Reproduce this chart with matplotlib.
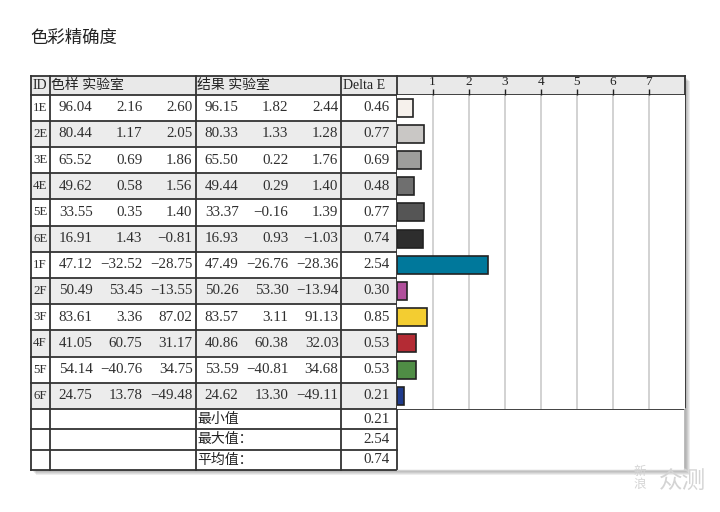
import numpy as np
import matplotlib.pyplot as plt
from matplotlib.patches import Rectangle

plt.rcParams['font.family'] = ['Liberation Serif', 'Noto Sans CJK SC']

ids = ['1E', '2E', '3E', '4E', '5E', '6E', '1F', '2F', '3F', '4F', '5F', '6F']
sample_L = [96.04, 80.44, 65.52, 49.62, 33.55, 16.91, 47.12, 50.49, 83.61, 41.05, 54.14, 24.75]
sample_a = [2.16, 1.17, 0.69, 0.58, 0.35, 1.43, -32.52, 53.45, 3.36, 60.75, -40.76, 13.78]
sample_b = [2.60, 2.05, 1.86, 1.56, 1.40, -0.81, -28.75, -13.55, 87.02, 31.17, 34.75, -49.48]
result_L = [96.15, 80.33, 65.50, 49.44, 33.37, 16.93, 47.49, 50.26, 83.57, 40.86, 53.59, 24.62]
result_a = [1.82, 1.33, 0.22, 0.29, -0.16, 0.93, -26.76, 53.30, 3.11, 60.38, -40.81, 13.30]
result_b = [2.44, 1.28, 1.76, 1.40, 1.39, -1.03, -28.36, -13.94, 91.13, 32.03, 34.68, -49.11]
delta_e = [0.46, 0.77, 0.69, 0.48, 0.77, 0.74, 2.54, 0.30, 0.85, 0.53, 0.53, 0.21]
bar_colors = ['#f6f1ec', '#c9c7c5', '#9d9d9b', '#6f6f6f', '#555555', '#2d2d2d',
              '#00789b', '#b04f9b', '#f3cd31', '#b42b34', '#4f8d45', '#1f3b8c']
summary_labels = ['最小值', '最大值：', '平均值：']
summary_values = [min(delta_e), max(delta_e), np.mean(delta_e)]
headers = ['ID', '色样 实验室', '结果 实验室', 'Delta E']
bar_ticks = [1, 2, 3, 4, 5, 6, 7]

# layout in pixels
L, R = 31, 685
top, head_bot = 76, 94.5
row_h = 26.2
rows_bot = head_bot + row_h * len(ids)
sum_h = 20.3
bot = rows_bot + sum_h * len(summary_labels)
cols = [31, 49.5, 195.5, 341, 396.5]
line_c = '#333333'

fig = plt.figure(figsize=(7.2, 5.12), dpi=100)
ax = fig.add_axes([0, 0, 1, 1])
ax.set_xlim(0, 720)
ax.set_ylim(512, 0)
ax.axis('off')

fig.text(30 / 720, 1 - 38 / 512, '色彩精确度', fontsize=12.5, color='#222222',
         va='center', ha='left', family=['Noto Sans CJK SC'])

# drop shadow
for k in range(1, 6):
    ax.add_patch(Rectangle((L + k, top + k), R - L, bot - top, facecolor='#000000',
                           alpha=0.07, edgecolor='none', zorder=0))
ax.add_patch(Rectangle((L, top), R - L, bot - top, facecolor='white', edgecolor='none', zorder=1))

# header and row backgrounds
ax.add_patch(Rectangle((L, top), R - L, head_bot - top, facecolor='#e9e9e9', edgecolor='none', zorder=1))
for i in range(len(ids)):
    if i % 2 == 1:
        ax.add_patch(Rectangle((L, head_bot + i * row_h), cols[-1] - L, row_h,
                               facecolor='#ececec', edgecolor='none', zorder=1))

# horizontal lines
lw = 1.3
ax.plot([L, R], [top, top], color=line_c, lw=lw, zorder=3)
ax.plot([L, R], [head_bot, head_bot], color=line_c, lw=lw, zorder=3)
for i in range(1, len(ids)):
    y = head_bot + i * row_h
    ax.plot([L, cols[-1]], [y, y], color=line_c, lw=lw, zorder=3)
ax.plot([L, R], [rows_bot, rows_bot], color=line_c, lw=lw, zorder=3)
for j in range(1, len(summary_labels) + 1):
    y = rows_bot + j * sum_h
    ax.plot([L, cols[-1]], [y, y], color=line_c, lw=lw, zorder=3)

# vertical lines
for x in cols:
    ax.plot([x, x], [top, bot], color=line_c, lw=lw, zorder=3)
ax.plot([R, R], [top, rows_bot], color=line_c, lw=lw, zorder=3)
ax.plot([R, R], [rows_bot, bot], color='#b5b5b5', lw=lw, zorder=3)
ax.plot([cols[-1], R], [bot, bot], color='#d0d0d0', lw=1, zorder=3)

fs = 10.8
txt_c = '#2e2e2e'
hy = (top + head_bot) / 2
ax.text(33, hy, headers[0], fontsize=fs - 0.8, va='center', ha='left', color='#222', zorder=4)
ax.text(51, hy, headers[1], fontsize=fs - 0.8, va='center', ha='left', color='#222', zorder=4)
ax.text(197, hy, headers[2], fontsize=fs - 0.8, va='center', ha='left', color='#222', zorder=4)
ax.text(343, hy, headers[3], fontsize=fs - 0.8, va='center', ha='left', color='#222', zorder=4)

for i, rid in enumerate(ids):
    y = head_bot + (i + 0.5) * row_h
    ax.text(33, y, rid, fontsize=fs - 1.5, va='center', ha='left', color=txt_c, zorder=4)
    for base, vals in ((cols[1], (sample_L, sample_a, sample_b)),
                       (cols[2], (result_L, result_a, result_b))):
        for k, v in enumerate(vals):
            ax.text(base + 43 + 50 * k, y, f'{v[i]:.2f}'.replace('-', '\u2212'),
                    fontsize=fs, va='center', ha='right', color=txt_c, zorder=4)
    ax.text(390, y, f'{delta_e[i]:.2f}', fontsize=fs, va='center', ha='right', color=txt_c, zorder=4)

for j, lab in enumerate(summary_labels):
    y = rows_bot + (j + 0.5) * sum_h
    ax.text(197, y, lab, fontsize=fs - 0.8, va='center', ha='left', color='#222',
            family=['Noto Sans CJK SC'], zorder=4)
    ax.text(390, y, f'{summary_values[j]:.2f}', fontsize=fs, va='center', ha='right',
            color=txt_c, zorder=4)

# watermark
ax.text(640, 478, '新\n浪', fontsize=9, color='#d4d4d4', va='center', ha='center',
        linespacing=1.0, family=['Noto Sans CJK SC'], zorder=4)
ax.text(683, 482, '众测', fontsize=17, color='#d4d4d4', va='center', ha='center',
        family=['Noto Sans CJK SC'], zorder=4)

# bar area
bax = fig.add_axes([cols[-1] / 720, 1 - rows_bot / 512, (R - cols[-1]) / 720, (rows_bot - head_bot) / 512])
pos = np.arange(len(ids))
bax.barh(pos, delta_e, height=0.68, color=bar_colors, edgecolor='#222222', linewidth=1.2, zorder=3)
bax.set_xlim(0, 8)
bax.set_ylim(len(ids) - 0.5, -0.5)
bax.set_xticks(bar_ticks)
bax.set_xticklabels([str(t) for t in bar_ticks], fontsize=9.5, color='#222')
bax.xaxis.tick_top()
bax.tick_params(axis='x', direction='out', length=4, width=1, pad=1, colors='#222')
bax.set_yticks([])
bax.grid(axis='x', color='#cfcfcf', lw=1.3, zorder=0)
for s in bax.spines.values():
    s.set_visible(False)

plt.savefig('out.png', dpi=100)
